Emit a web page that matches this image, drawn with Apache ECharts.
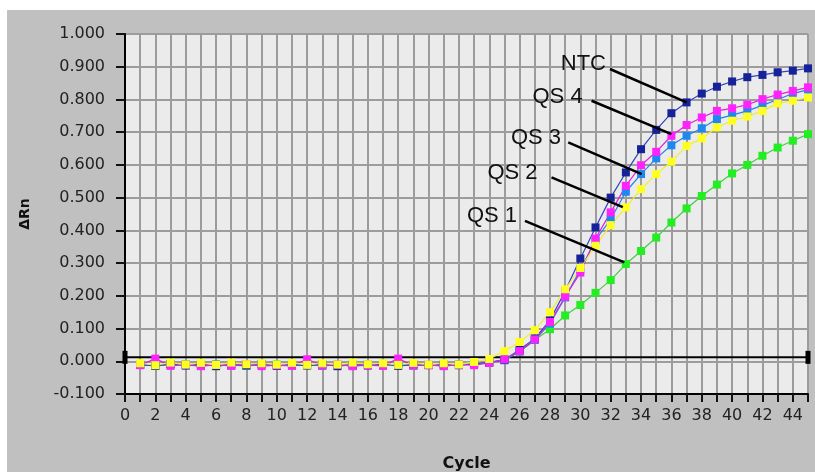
<!DOCTYPE html>
<html><head><meta charset="utf-8">
<script src="https://cdn.jsdelivr.net/npm/echarts@6/dist/echarts.min.js"></script>
<style>html,body{margin:0;padding:0;background:#fff}#c{width:815px;height:472px}</style>
</head><body><div id="c"></div>
<script>
const cycles = [1,2,3,4,5,6,7,8,9,10,11,12,13,14,15,16,17,18,19,20,21,22,23,24,25,26,27,28,29,30,31,32,33,34,35,36,37,38,39,40,41,42,43,44,45];

const ntc = [-0.010,-0.014,-0.008,-0.013,-0.009,-0.015,-0.010,-0.013,-0.008,-0.014,-0.010,-0.013,-0.009,-0.015,-0.010,-0.013,-0.008,-0.014,-0.010,-0.012,-0.009,-0.012,-0.008,-0.003,
  0.005,0.035,0.070,0.125,0.215,0.314,0.409,0.500,0.577,0.648,0.707,0.758,0.791,0.818,0.839,0.855,0.868,0.875,0.883,0.888,0.895];
const qs4 = [-0.012,0.008,-0.014,-0.010,-0.015,-0.011,-0.014,-0.009,-0.015,-0.012,-0.014,0.006,-0.013,-0.010,-0.015,-0.012,-0.014,0.008,-0.013,-0.011,-0.015,-0.010,-0.012,-0.005,
  0.006,0.031,0.067,0.120,0.197,0.271,0.375,0.455,0.536,0.599,0.640,0.689,0.722,0.745,0.765,0.773,0.784,0.801,0.815,0.826,0.837];
const qs3 = [-0.011,-0.013,-0.009,-0.012,-0.014,-0.010,-0.013,-0.011,-0.009,-0.013,-0.012,-0.010,-0.014,-0.011,-0.013,-0.009,-0.012,-0.010,-0.013,-0.011,-0.012,-0.010,-0.009,-0.004,
  0.003,0.030,0.065,0.115,0.195,0.280,0.370,0.434,0.518,0.572,0.620,0.660,0.689,0.712,0.740,0.752,0.765,0.782,0.800,0.818,0.830];
const qs2 = [-0.006,-0.012,-0.004,-0.010,-0.005,-0.011,-0.004,-0.009,-0.006,-0.010,-0.005,-0.011,-0.006,-0.010,-0.004,-0.009,-0.006,-0.011,-0.005,-0.010,-0.006,-0.010,-0.002,0.007,
  0.031,0.059,0.095,0.150,0.220,0.285,0.353,0.416,0.470,0.526,0.572,0.610,0.658,0.681,0.715,0.735,0.748,0.765,0.788,0.796,0.806];
const qs1 = [-0.010,-0.013,-0.011,-0.009,-0.013,-0.010,-0.012,-0.014,-0.011,-0.009,-0.013,-0.010,-0.012,-0.011,-0.014,-0.010,-0.012,-0.009,-0.013,-0.011,-0.014,-0.010,-0.008,-0.005,
  0.005,0.030,0.065,0.098,0.140,0.172,0.209,0.248,0.297,0.337,0.378,0.424,0.467,0.505,0.540,0.574,0.600,0.628,0.653,0.674,0.694];

const threshold = 0.012;

const labelNames = ['NTC','QS 4','QS 3','QS 2','QS 1'];
const labelAt   = [[30.2,0.908],[28.5,0.809],[27.08,0.683],[25.53,0.576],[24.18,0.445]];
const arrowFrom = [[31.95,0.893],[30.74,0.796],[29.2,0.669],[28.1,0.562],[26.35,0.429]];
const arrowTo   = [[37,0.791],[36,0.694],[34.04,0.572],[32.8,0.471],[32.9,0.302]];

const pair = v => cycles.map((c,i)=>[c, v[i]]);

function curve(name, vals, marker, line) {
  return {
    name, type:'line', data: pair(vals), symbol:'rect', symbolSize:8,
    itemStyle:{color:marker}, lineStyle:{color:line, width:1.2},
    emphasis:{disabled:true}, z:3
  };
}

const chart = echarts.init(document.getElementById('c'), null, {renderer:'canvas'});
chart.setOption({
  animation:false,
  backgroundColor:'#ffffff',
  graphic:[{type:'rect', left:7, top:10, shape:{width:808, height:462}, style:{fill:'#c0c0c0'}, z:-10}],
  grid:{left:125, top:34, right:7, bottom:78, show:true, backgroundColor:'#ebebeb', borderColor:'#444', borderWidth:1,
        containLabel:false, outerBoundsMode:'none'},
  xAxis:{
    type:'value', min:0, max:45, interval:1,
    name:'Cycle', nameLocation:'middle', nameGap:62,
    nameTextStyle:{fontFamily:'DejaVu Sans', fontWeight:'bold', fontSize:16, color:'#111'},
    axisLine:{onZero:false, lineStyle:{color:'#000', width:2}},
    axisTick:{show:true, length:8, lineStyle:{color:'#111', width:2}},
    axisLabel:{fontFamily:'DejaVu Sans', fontSize:16, color:'#222', margin:14,
      formatter: v => (v % 2 === 0 ? String(v) : '')},
    splitLine:{show:true, lineStyle:{color:'#9c9c9c', width:2}}
  },
  yAxis:{
    type:'value', min:-0.1, max:1.0, interval:0.1,
    name:'ΔRn', nameLocation:'middle', nameGap:93,
    nameTextStyle:{fontFamily:'DejaVu Sans', fontWeight:'bold', fontSize:14, color:'#111'},
    axisLine:{show:true, lineStyle:{color:'#000', width:2}},
    axisTick:{show:true, length:9, lineStyle:{color:'#111', width:2}},
    axisLabel:{fontFamily:'DejaVu Sans', fontSize:16, color:'#222', margin:20,
      formatter: v => v.toFixed(3)},
    splitLine:{show:true, lineStyle:{color:'#9c9c9c', width:2}}
  },
  series:[
    {type:'line', data:[[0,threshold],[45,threshold]], symbol:'rect', symbolSize:[5,13],
     itemStyle:{color:'#000'}, lineStyle:{color:'#000', width:2}, z:2, emphasis:{disabled:true}},
    curve('QS 1', qs1, '#22ee22', '#44cc44'),
    curve('QS 3', qs3, '#1e88f0', '#2a80e0'),
    curve('NTC', ntc, '#16229a', '#3344bb'),
    curve('QS 4', qs4, '#ff22ff', '#e020e0'),
    curve('QS 2', qs2, '#ffff22', '#eeee30'),
    {type:'line', data:[], z:6, silent:true,
     markLine:{silent:true, symbol:['none','none'], animation:false,
       lineStyle:{color:'#000', width:2.5, type:'solid'}, label:{show:false},
       data: labelNames.map((n,i)=>[{coord:arrowFrom[i]},{coord:arrowTo[i]}])},
     markPoint:{silent:true, symbol:'circle', symbolSize:0, animation:false,
       label:{show:true, position:'inside', fontFamily:'Liberation Sans', fontSize:22, color:'#111',
         formatter: p => p.name},
       data: labelNames.map((n,i)=>({name:n, coord:labelAt[i]}))}
    }
  ]
});
</script></body></html>
